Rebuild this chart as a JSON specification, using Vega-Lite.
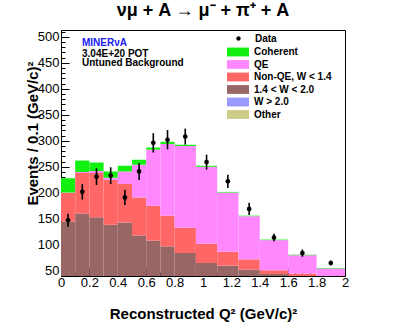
{
  "$schema": "https://vega.github.io/schema/vega-lite/v6.json",
  "autosize": "none",
  "width": 284,
  "height": 246,
  "padding": {"left": 61, "top": 30, "right": 62, "bottom": 52},
  "background": "white",
  "config": {
    "font": "Liberation Sans",
    "view": {"stroke": "black", "strokeWidth": 1},
    "axis": {"domainColor": "black", "tickColor": "black", "labelColor": "black", "titleColor": "black", "grid": false, "labelFont": "Liberation Sans", "titleFont": "Liberation Sans", "labelFontSize": 13, "titleFontSize": 15, "titleFontWeight": "bold", "labelOverlap": false, "labelFlush": false},
    "legend": {"labelFont": "Liberation Sans", "labelFontWeight": "bold", "labelFontSize": 10, "labelColor": "black"}
  },
  "title": {"text": "νμ + A → μ⁻ + π⁺ + A", "font": "Liberation Sans", "fontSize": 18, "fontWeight": "bold", "color": "black", "anchor": "middle", "offset": 6},
  "resolve": {"scale": {"shape": "independent"}},
  "datasets": {
    "mc": [
      {"x": 0, "hi": 0.1, "c": "Other", "o": 1, "v": 3}, {"x": 0, "hi": 0.1, "c": "W > 2.0", "o": 2, "v": 1}, {"x": 0, "hi": 0.1, "c": "1.4 < W < 2.0", "o": 3, "v": 141}, {"x": 0, "hi": 0.1, "c": "Non-QE, W < 1.4", "o": 4, "v": 55}, {"x": 0, "hi": 0.1, "c": "QE", "o": 5, "v": 0.5}, {"x": 0, "hi": 0.1, "c": "Coherent", "o": 6, "v": 27.5},
      {"x": 0.1, "hi": 0.2, "c": "Other", "o": 1, "v": 3}, {"x": 0.1, "hi": 0.2, "c": "W > 2.0", "o": 2, "v": 1}, {"x": 0.1, "hi": 0.2, "c": "1.4 < W < 2.0", "o": 3, "v": 156}, {"x": 0.1, "hi": 0.2, "c": "Non-QE, W < 1.4", "o": 4, "v": 78}, {"x": 0.1, "hi": 0.2, "c": "QE", "o": 5, "v": 2}, {"x": 0.1, "hi": 0.2, "c": "Coherent", "o": 6, "v": 22},
      {"x": 0.2, "hi": 0.3, "c": "Other", "o": 1, "v": 3}, {"x": 0.2, "hi": 0.3, "c": "W > 2.0", "o": 2, "v": 1}, {"x": 0.2, "hi": 0.3, "c": "1.4 < W < 2.0", "o": 3, "v": 149}, {"x": 0.2, "hi": 0.3, "c": "Non-QE, W < 1.4", "o": 4, "v": 85}, {"x": 0.2, "hi": 0.3, "c": "QE", "o": 5, "v": 4}, {"x": 0.2, "hi": 0.3, "c": "Coherent", "o": 6, "v": 16},
      {"x": 0.3, "hi": 0.4, "c": "Other", "o": 1, "v": 3}, {"x": 0.3, "hi": 0.4, "c": "W > 2.0", "o": 2, "v": 1}, {"x": 0.3, "hi": 0.4, "c": "1.4 < W < 2.0", "o": 3, "v": 134.5}, {"x": 0.3, "hi": 0.4, "c": "Non-QE, W < 1.4", "o": 4, "v": 86.5}, {"x": 0.3, "hi": 0.4, "c": "QE", "o": 5, "v": 4}, {"x": 0.3, "hi": 0.4, "c": "Coherent", "o": 6, "v": 12},
      {"x": 0.4, "hi": 0.5, "c": "Other", "o": 1, "v": 3}, {"x": 0.4, "hi": 0.5, "c": "W > 2.0", "o": 2, "v": 1}, {"x": 0.4, "hi": 0.5, "c": "1.4 < W < 2.0", "o": 3, "v": 139}, {"x": 0.4, "hi": 0.5, "c": "Non-QE, W < 1.4", "o": 4, "v": 74}, {"x": 0.4, "hi": 0.5, "c": "QE", "o": 5, "v": 24}, {"x": 0.4, "hi": 0.5, "c": "Coherent", "o": 6, "v": 11},
      {"x": 0.5, "hi": 0.6, "c": "Other", "o": 1, "v": 3}, {"x": 0.5, "hi": 0.6, "c": "W > 2.0", "o": 2, "v": 1}, {"x": 0.5, "hi": 0.6, "c": "1.4 < W < 2.0", "o": 3, "v": 114}, {"x": 0.5, "hi": 0.6, "c": "Non-QE, W < 1.4", "o": 4, "v": 73}, {"x": 0.5, "hi": 0.6, "c": "QE", "o": 5, "v": 63}, {"x": 0.5, "hi": 0.6, "c": "Coherent", "o": 6, "v": 9.5},
      {"x": 0.6, "hi": 0.7, "c": "Other", "o": 1, "v": 3}, {"x": 0.6, "hi": 0.7, "c": "W > 2.0", "o": 2, "v": 1}, {"x": 0.6, "hi": 0.7, "c": "1.4 < W < 2.0", "o": 3, "v": 104}, {"x": 0.6, "hi": 0.7, "c": "Non-QE, W < 1.4", "o": 4, "v": 67}, {"x": 0.6, "hi": 0.7, "c": "QE", "o": 5, "v": 108}, {"x": 0.6, "hi": 0.7, "c": "Coherent", "o": 6, "v": 4},
      {"x": 0.7, "hi": 0.8, "c": "Other", "o": 1, "v": 3}, {"x": 0.7, "hi": 0.8, "c": "W > 2.0", "o": 2, "v": 1}, {"x": 0.7, "hi": 0.8, "c": "1.4 < W < 2.0", "o": 3, "v": 93}, {"x": 0.7, "hi": 0.8, "c": "Non-QE, W < 1.4", "o": 4, "v": 59}, {"x": 0.7, "hi": 0.8, "c": "QE", "o": 5, "v": 138}, {"x": 0.7, "hi": 0.8, "c": "Coherent", "o": 6, "v": 4},
      {"x": 0.8, "hi": 0.95, "c": "Other", "o": 1, "v": 3}, {"x": 0.8, "hi": 0.95, "c": "W > 2.0", "o": 2, "v": 1}, {"x": 0.8, "hi": 0.95, "c": "1.4 < W < 2.0", "o": 3, "v": 80}, {"x": 0.8, "hi": 0.95, "c": "Non-QE, W < 1.4", "o": 4, "v": 49}, {"x": 0.8, "hi": 0.95, "c": "QE", "o": 5, "v": 157}, {"x": 0.8, "hi": 0.95, "c": "Coherent", "o": 6, "v": 2.5},
      {"x": 0.95, "hi": 1.1, "c": "Other", "o": 1, "v": 3}, {"x": 0.95, "hi": 1.1, "c": "W > 2.0", "o": 2, "v": 1}, {"x": 0.95, "hi": 1.1, "c": "1.4 < W < 2.0", "o": 3, "v": 61}, {"x": 0.95, "hi": 1.1, "c": "Non-QE, W < 1.4", "o": 4, "v": 37}, {"x": 0.95, "hi": 1.1, "c": "QE", "o": 5, "v": 148}, {"x": 0.95, "hi": 1.1, "c": "Coherent", "o": 6, "v": 2},
      {"x": 1.1, "hi": 1.25, "c": "Other", "o": 1, "v": 3}, {"x": 1.1, "hi": 1.25, "c": "W > 2.0", "o": 2, "v": 1}, {"x": 1.1, "hi": 1.25, "c": "1.4 < W < 2.0", "o": 3, "v": 56}, {"x": 1.1, "hi": 1.25, "c": "Non-QE, W < 1.4", "o": 4, "v": 26.5}, {"x": 1.1, "hi": 1.25, "c": "QE", "o": 5, "v": 114}, {"x": 1.1, "hi": 1.25, "c": "Coherent", "o": 6, "v": 1.2},
      {"x": 1.25, "hi": 1.4, "c": "Other", "o": 1, "v": 3}, {"x": 1.25, "hi": 1.4, "c": "W > 2.0", "o": 2, "v": 1}, {"x": 1.25, "hi": 1.4, "c": "1.4 < W < 2.0", "o": 3, "v": 48}, {"x": 1.25, "hi": 1.4, "c": "Non-QE, W < 1.4", "o": 4, "v": 20}, {"x": 1.25, "hi": 1.4, "c": "QE", "o": 5, "v": 83}, {"x": 1.25, "hi": 1.4, "c": "Coherent", "o": 6, "v": 1},
      {"x": 1.4, "hi": 1.6, "c": "Other", "o": 1, "v": 3}, {"x": 1.4, "hi": 1.6, "c": "W > 2.0", "o": 2, "v": 1}, {"x": 1.4, "hi": 1.6, "c": "1.4 < W < 2.0", "o": 3, "v": 40}, {"x": 1.4, "hi": 1.6, "c": "Non-QE, W < 1.4", "o": 4, "v": 7}, {"x": 1.4, "hi": 1.6, "c": "QE", "o": 5, "v": 58}, {"x": 1.4, "hi": 1.6, "c": "Coherent", "o": 6, "v": 1},
      {"x": 1.6, "hi": 1.8, "c": "Other", "o": 1, "v": 3}, {"x": 1.6, "hi": 1.8, "c": "W > 2.0", "o": 2, "v": 1}, {"x": 1.6, "hi": 1.8, "c": "1.4 < W < 2.0", "o": 3, "v": 36}, {"x": 1.6, "hi": 1.8, "c": "Non-QE, W < 1.4", "o": 4, "v": 4.5}, {"x": 1.6, "hi": 1.8, "c": "QE", "o": 5, "v": 35.5}, {"x": 1.6, "hi": 1.8, "c": "Coherent", "o": 6, "v": 1},
      {"x": 1.8, "hi": 2.0, "c": "Other", "o": 1, "v": 3}, {"x": 1.8, "hi": 2.0, "c": "W > 2.0", "o": 2, "v": 1}, {"x": 1.8, "hi": 2.0, "c": "1.4 < W < 2.0", "o": 3, "v": 32}, {"x": 1.8, "hi": 2.0, "c": "Non-QE, W < 1.4", "o": 4, "v": 3}, {"x": 1.8, "hi": 2.0, "c": "QE", "o": 5, "v": 15.5}, {"x": 1.8, "hi": 2.0, "c": "Coherent", "o": 6, "v": 1}
    ],
    "obs": [
      {"x": 0.05, "y": 147, "e": 12.5}, {"x": 0.15, "y": 202, "e": 15}, {"x": 0.25, "y": 231, "e": 16}, {"x": 0.35, "y": 233, "e": 16}, {"x": 0.45, "y": 191, "e": 14.7},
      {"x": 0.55, "y": 241, "e": 16.3}, {"x": 0.65, "y": 296, "e": 18.6}, {"x": 0.75, "y": 302, "e": 18.6}, {"x": 0.875, "y": 308, "e": 15.4}, {"x": 1.025, "y": 259, "e": 14.4},
      {"x": 1.175, "y": 222, "e": 12.8}, {"x": 1.325, "y": 169, "e": 11.9}, {"x": 1.5, "y": 114, "e": 7}, {"x": 1.7, "y": 84, "e": 7}, {"x": 1.9, "y": 65, "e": 5}
    ],
    "note1": [{"x": 0.148, "y": 482, "t": "MINERνA"}],
    "note2": [{"x": 0.148, "y": 462, "t": "3.04E+20 POT"}, {"x": 0.148, "y": 443, "t": "Untuned Background"}]
  },
  "encoding": {
    "x": {"field": "x", "type": "quantitative", "title": "Reconstructed Q² (GeV/c)²", "scale": {"domain": [0, 2], "nice": false, "zero": false},
      "axis": {"values": [0,0.05,0.1,0.15,0.2,0.25,0.3,0.35,0.4,0.45,0.5,0.55,0.6,0.65,0.7,0.75,0.8,0.85,0.9,0.95,1,1.05,1.1,1.15,1.2,1.25,1.3,1.35,1.4,1.45,1.5,1.55,1.6,1.65,1.7,1.75,1.8,1.85,1.9,1.95,2],
        "labelExpr": "round(datum.value*20) % 4 == 0 ? format(datum.value, '.1~f') : ''",
        "tickSize": {"condition": {"test": "round(datum.value*20) % 4 == 0", "value": -8}, "value": -4},
        "labelPadding": 8.5, "labelFlush": false, "labelOverlap": false, "titleX": 142, "titleY": 42, "titleAlign": "center", "titleBaseline": "alphabetic"}},
    "y": {"field": "y", "type": "quantitative", "title": "Events / 0.1 (GeV/c)²", "scale": {"domain": [40, 513], "nice": false, "zero": false},
      "axis": {"values": [40,50,60,70,80,90,100,110,120,130,140,150,160,170,180,190,200,210,220,230,240,250,260,270,280,290,300,310,320,330,340,350,360,370,380,390,400,410,420,430,440,450,460,470,480,490,500,510],
        "labelExpr": "datum.value % 50 == 0 ? datum.value : ''",
        "tickSize": {"condition": {"test": "datum.value % 50 == 0", "value": -8}, "value": -4},
        "labelPadding": 10, "labelOverlap": false, "labelFlush": false, "titleAngle": -90, "titleX": -24, "titleY": 103, "titleAlign": "center", "titleBaseline": "alphabetic"}}
  },
  "layer": [
    {
      "data": {"name": "mc"},
      "transform": [{"stack": "v", "groupby": ["x"], "sort": [{"field": "o", "order": "ascending"}], "as": ["y", "ytop"]}],
      "mark": {"type": "rect", "clip": true, "strokeWidth": 0},
      "encoding": {
        "x2": {"field": "hi"},
        "y2": {"field": "ytop"},
        "color": {"field": "c", "type": "nominal",
          "scale": {"domain": ["Coherent", "QE", "Non-QE, W < 1.4", "1.4 < W < 2.0", "W > 2.0", "Other"], "range": ["#11f011", "#ff88ff", "#ff6666", "#996666", "#9999ff", "#cccc88"]},
          "legend": {"title": null, "orient": "none", "legendX": 171.5, "legendY": 16.5, "symbolType": "M-2,-0.8H2V0.8H-2Z", "symbolSize": 121, "symbolStrokeWidth": 0, "symbolOpacity": 1, "rowPadding": 1.5, "labelOffset": 10.5}}
      }
    },
    {
      "data": {"name": "obs"},
      "mark": {"type": "errorbar", "color": "black", "rule": {"strokeWidth": 1.6}},
      "encoding": {"yError": {"field": "e"}}
    },
    {
      "data": {"name": "obs"},
      "mark": {"type": "point", "filled": true, "color": "black", "opacity": 1, "size": 22}
    },
    {
      "data": {"name": "obs"},
      "mark": {"type": "point", "filled": true, "color": "black", "opacity": 0},
      "encoding": {
        "shape": {"datum": "Data", "scale": {"domain": ["Data"], "range": ["M-2,0H2M0,-0.8V0.8M-0.4,0A0.4,0.4 0 1,0 0.4,0A0.4,0.4 0 1,0 -0.4,0Z"]},
          "legend": {"title": null, "orient": "none", "legendX": 171.5, "legendY": 2.5, "symbolSize": 121, "symbolStrokeColor": "black", "symbolFillColor": "black", "symbolStrokeWidth": 1, "symbolOpacity": 1, "labelOffset": 10.5,
            "encode": {"symbols": {"update": {"stroke": {"value": "black"}, "strokeWidth": {"value": 1}, "strokeOpacity": {"value": 1}, "fill": {"value": "black"}, "opacity": {"value": 1}}}}}}
      }
    },
    {
      "data": {"name": "note1"},
      "mark": {"type": "text", "align": "left", "baseline": "alphabetic", "font": "Liberation Sans", "fontWeight": "bold", "fontSize": 10, "color": "#2020ee"},
      "encoding": {"text": {"field": "t"}}
    },
    {
      "data": {"name": "note2"},
      "mark": {"type": "text", "align": "left", "baseline": "alphabetic", "font": "Liberation Sans", "fontWeight": "bold", "fontSize": 10, "color": "black"},
      "encoding": {"text": {"field": "t"}}
    }
  ]
}
